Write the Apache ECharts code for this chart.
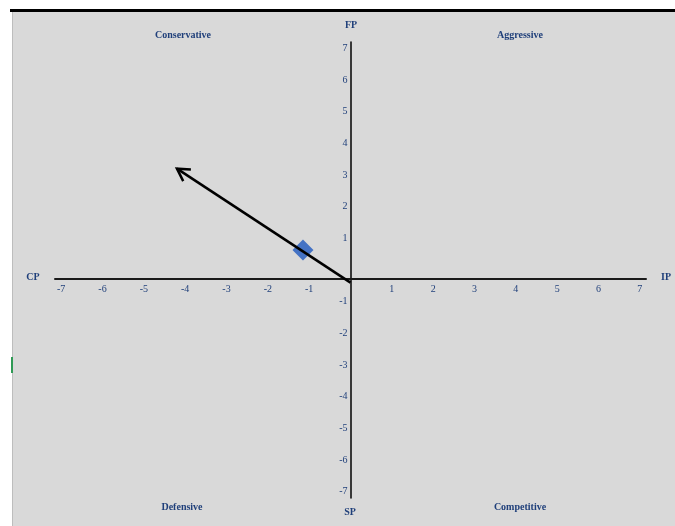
<!DOCTYPE html>
<html>
<head>
<meta charset="utf-8">
<script src="https://cdn.jsdelivr.net/npm/echarts@6/dist/echarts.min.js"></script>
<style>html,body{margin:0;padding:0;background:#fff;}#c{width:675px;height:526px;}</style>
</head>
<body>
<div id="c"></div>
<script>
// ---- data ----
const xTickValues = [-7, -6, -5, -4, -3, -2, -1, 1, 2, 3, 4, 5, 6, 7];
const yTickValues = [-7, -6, -5, -4, -3, -2, -1, 1, 2, 3, 4, 5, 6, 7];
const arrowTail = [0, -0.4];
const arrowHead = [-4.2, 3.2];
const positionPoint = [-1.15, 0.63];
const axisNames = { left: 'CP', right: 'IP', top: 'FP', bottom: 'SP' };
const quadrantNames = { topLeft: 'Conservative', topRight: 'Aggressive', bottomLeft: 'Defensive', bottomRight: 'Competitive' };

const FONT = '"Liberation Serif", "DejaVu Serif", serif';
const LABEL_COLOR = '#1f3f7a';

const chart = echarts.init(document.getElementById('c'));

function txt(text, x, y) {
  return {
    type: 'text', x: x, y: y, z: 10,
    style: { text: text, fill: LABEL_COLOR, font: 'bold 10px ' + FONT, align: 'center', verticalAlign: 'middle' }
  };
}

const option = {
  backgroundColor: '#d9d9d9',
  animation: false,
  grid: { left: 55, right: 29, top: 42, bottom: 28, containLabel: false },
  xAxis: {
    type: 'value', min: -7.15, max: 7.15,
    position: 'bottom', offset: -219.5,
    axisLine: { onZero: false, lineStyle: { color: '#1a1a1a', width: 2 } },
    axisTick: { show: false },
    splitLine: { show: false },
    axisLabel: { customValues: xTickValues, color: LABEL_COLOR, fontFamily: FONT, fontSize: 10, margin: 6 }
  },
  yAxis: {
    type: 'value', min: -7.2, max: 7.2,
    position: 'left', offset: -295.5,
    axisLine: { onZero: false, lineStyle: { color: '#000', width: 1.5 } },
    axisTick: { show: false },
    splitLine: { show: false },
    axisLabel: { customValues: yTickValues, color: LABEL_COLOR, fontFamily: FONT, fontSize: 10, margin: 3 }
  },
  graphic: [
    { type: 'rect', shape: { x: 0, y: 0, width: 675, height: 9 }, style: { fill: '#fff' }, z: 1 },
    { type: 'rect', shape: { x: 0, y: 0, width: 12, height: 526 }, style: { fill: '#fff' }, z: 1 },
    { type: 'rect', shape: { x: 10, y: 9, width: 665, height: 3 }, style: { fill: '#000' }, z: 1 },
    { type: 'rect', shape: { x: 12, y: 12, width: 1, height: 514 }, style: { fill: '#bdbdbd' }, z: 1 },
    { type: 'rect', shape: { x: 11, y: 357, width: 2, height: 16 }, style: { fill: '#2f9a55' }, z: 1 },
    txt(axisNames.left, 33, 277),
    txt(axisNames.right, 666, 277),
    txt(axisNames.top, 351, 25),
    txt(axisNames.bottom, 350, 512),
    txt(quadrantNames.topLeft, 183, 35),
    txt(quadrantNames.topRight, 520, 35),
    txt(quadrantNames.bottomLeft, 182, 507),
    txt(quadrantNames.bottomRight, 520, 507)
  ],
  series: [
    {
      type: 'scatter',
      data: [positionPoint],
      symbol: 'diamond',
      symbolSize: 21,
      itemStyle: { color: '#4472c4', opacity: 1 },
      z: 3
    },
    {
      type: 'custom',
      data: [[arrowTail[0], arrowTail[1], arrowHead[0], arrowHead[1]]],
      encode: { x: [0, 2], y: [1, 3] },
      z: 4,
      renderItem: function (params, api) {
        const p0 = api.coord([api.value(0), api.value(1)]);
        const p1 = api.coord([api.value(2), api.value(3)]);
        const dx = p0[0] - p1[0], dy = p0[1] - p1[1];
        const len = Math.sqrt(dx * dx + dy * dy);
        const ux = dx / len, uy = dy / len;
        const L = 14, a = Math.PI / 6;
        const w1 = [p1[0] + L * (ux * Math.cos(a) - uy * Math.sin(a)), p1[1] + L * (ux * Math.sin(a) + uy * Math.cos(a))];
        const w2 = [p1[0] + L * (ux * Math.cos(-a) - uy * Math.sin(-a)), p1[1] + L * (ux * Math.sin(-a) + uy * Math.cos(-a))];
        return {
          type: 'group',
          children: [
            { type: 'line', shape: { x1: p0[0], y1: p0[1], x2: p1[0], y2: p1[1] }, style: { stroke: '#000', lineWidth: 2.5 } },
            { type: 'polyline', shape: { points: [w1, p1, w2] }, style: { stroke: '#000', lineWidth: 2.5, fill: null, lineJoin: 'miter' } }
          ]
        };
      }
    }
  ]
};
chart.setOption(option);
</script>
</body>
</html>
